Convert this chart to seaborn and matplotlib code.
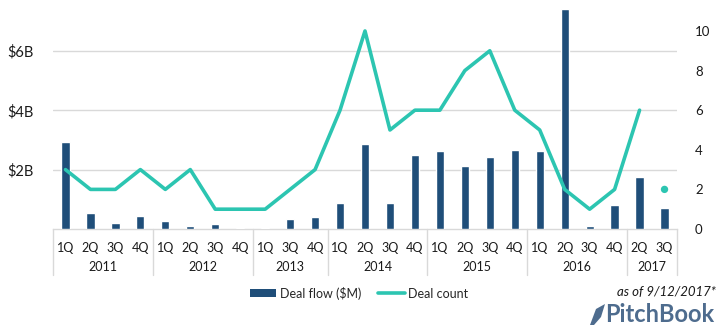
import matplotlib
matplotlib.use("Agg")
import matplotlib.pyplot as plt
from matplotlib.patches import Patch, Polygon
from matplotlib.lines import Line2D
import matplotlib.transforms as mtransforms
import seaborn as sns
import pandas as pd

# Quarterly data
years = ["2011", "2012", "2013", "2014", "2015", "2016", "2017"]
quarters = [
    ["1Q", "2Q", "3Q", "4Q"],
    ["1Q", "2Q", "3Q", "4Q"],
    ["1Q", "3Q", "4Q"],
    ["1Q", "2Q", "3Q", "4Q"],
    ["1Q", "2Q", "3Q", "4Q"],
    ["1Q", "2Q", "3Q", "4Q"],
    ["2Q", "3Q"],
]
deal_flow_b = [2.93, 0.55, 0.21, 0.44,
               0.28, 0.10, 0.17, 0.04,
               0.04, 0.34, 0.40,
               0.89, 2.87, 0.89, 2.50,
               2.63, 2.12, 2.43, 2.66,
               2.63, 7.40, 0.10, 0.81,
               1.75, 0.71]
deal_count = [3, 2, 2, 3,
              2, 3, 1, 1,
              1, 2, 3,
              6, 10, 5, 6,
              6, 8, 9, 6,
              5, 2, 1, 2,
              6]
deal_count_partial = 2  # 2017 3Q, as of 9/12/2017

BAR = "#1F4E79"
TEAL = "#2CC5B1"
GRID = "#D9D9D9"
TXT = "#1A1A1A"

labels = [q for ql in quarters for q in ql]
n = len(labels)
df = pd.DataFrame({"pos": [str(i) for i in range(n)], "flow": deal_flow_b})
line_df = pd.DataFrame({"x": list(range(len(deal_count))), "count": deal_count})

sns.set_theme(style="white")
plt.rcParams["font.family"] = ["Lato", "DejaVu Sans"]

fig = plt.figure(figsize=(7.18, 3.31), dpi=100)
ax = fig.add_axes([53 / 718, 1 - 229 / 331, 624 / 718, 221 / 331])

sns.barplot(data=df, x="pos", y="flow", color=BAR, width=0.33, ax=ax,
            saturation=1, zorder=3)
ax.set_xlim(-0.5, n - 0.5)
ax.set_ylim(0, 7.45)
ax.set_yticks([2, 4, 6])
ax.set_yticklabels(["$2B", "$4B", "$6B"], fontsize=10.5, color=TXT)
ax.yaxis.grid(True, color=GRID, linewidth=1, zorder=0)
ax.set_axisbelow(True)
ax.tick_params(axis="y", length=0, pad=14)
ax.set_xticks(range(n))
ax.set_xticklabels(labels, fontsize=9, color=TXT)
ax.tick_params(axis="x", length=0, pad=9)
ax.set_xlabel("")
ax.set_ylabel("")
for s in ["top", "right", "left"]:
    ax.spines[s].set_visible(False)
ax.spines["bottom"].set_color(GRID)
ax.spines["bottom"].set_linewidth(1)
ax.spines["bottom"].set_zorder(1)

# Deal count on the secondary axis
ax2 = ax.twinx()
sns.lineplot(data=line_df, x="x", y="count", color=TEAL, linewidth=2.6, ax=ax2,
             zorder=4)
ax2.scatter([n - 1], [deal_count_partial], color=TEAL, s=28, zorder=5,
            edgecolor="none")
ax2.set_ylim(0, 11.16)
ax2.set_yticks([0, 2, 4, 6, 8, 10])
ax2.set_yticklabels(["0", "2", "4", "6", "8", "10"], fontsize=9.5, color=TXT)
ax2.tick_params(axis="y", length=0, pad=13)
ax2.set_ylabel("")
ax2.set_xlim(-0.5, n - 0.5)
for s in ["top", "right", "left", "bottom"]:
    ax2.spines[s].set_visible(False)

# Year groups below the quarter labels
trans = mtransforms.blended_transform_factory(ax.transData, ax.transAxes)
bounds = [-0.5]
for ql in quarters:
    bounds.append(bounds[-1] + len(ql))
for b in bounds:
    ax.plot([b, b], [0, -46 / 221], color=GRID, linewidth=1,
            transform=trans, clip_on=False)
for i, y in enumerate(years):
    mid = (bounds[i] + bounds[i + 1]) / 2
    ax.text(mid, -38 / 221, y, transform=trans, ha="center", va="center",
            fontsize=9, color=TXT)

# Legend
handles = [Patch(facecolor=BAR, edgecolor="none"),
           Line2D([0], [0], color=TEAL, linewidth=2.6)]
fig.legend(handles, ["Deal flow ($M)", "Deal count"], loc="center",
           bbox_to_anchor=(359 / 718, 1 - 293 / 331), ncol=2, frameon=False,
           fontsize=9, handlelength=2.1, handleheight=0.55, columnspacing=1.4,
           handletextpad=0.25)

fig.text(716 / 718, 1 - 292 / 331, "as of 9/12/2017*", ha="right",
         va="center", fontsize=9.5, style="italic", color=TXT)

# Brand mark
LOGO = "#4E6C8E"
fig.text(714 / 718, 1 - 315 / 331, "PitchBook", ha="right", va="center",
         fontsize=17, fontweight="bold", color=LOGO)
leaf = Polygon([(590 / 718, 1 - 325 / 331), (596 / 718, 1 - 309 / 331),
                (605 / 718, 1 - 304 / 331), (601 / 718, 1 - 317 / 331),
                (594 / 718, 1 - 325 / 331)],
               closed=True, facecolor=LOGO, edgecolor="none",
               transform=fig.transFigure)
fig.patches.append(leaf)

fig.savefig("out.png", dpi=100)
